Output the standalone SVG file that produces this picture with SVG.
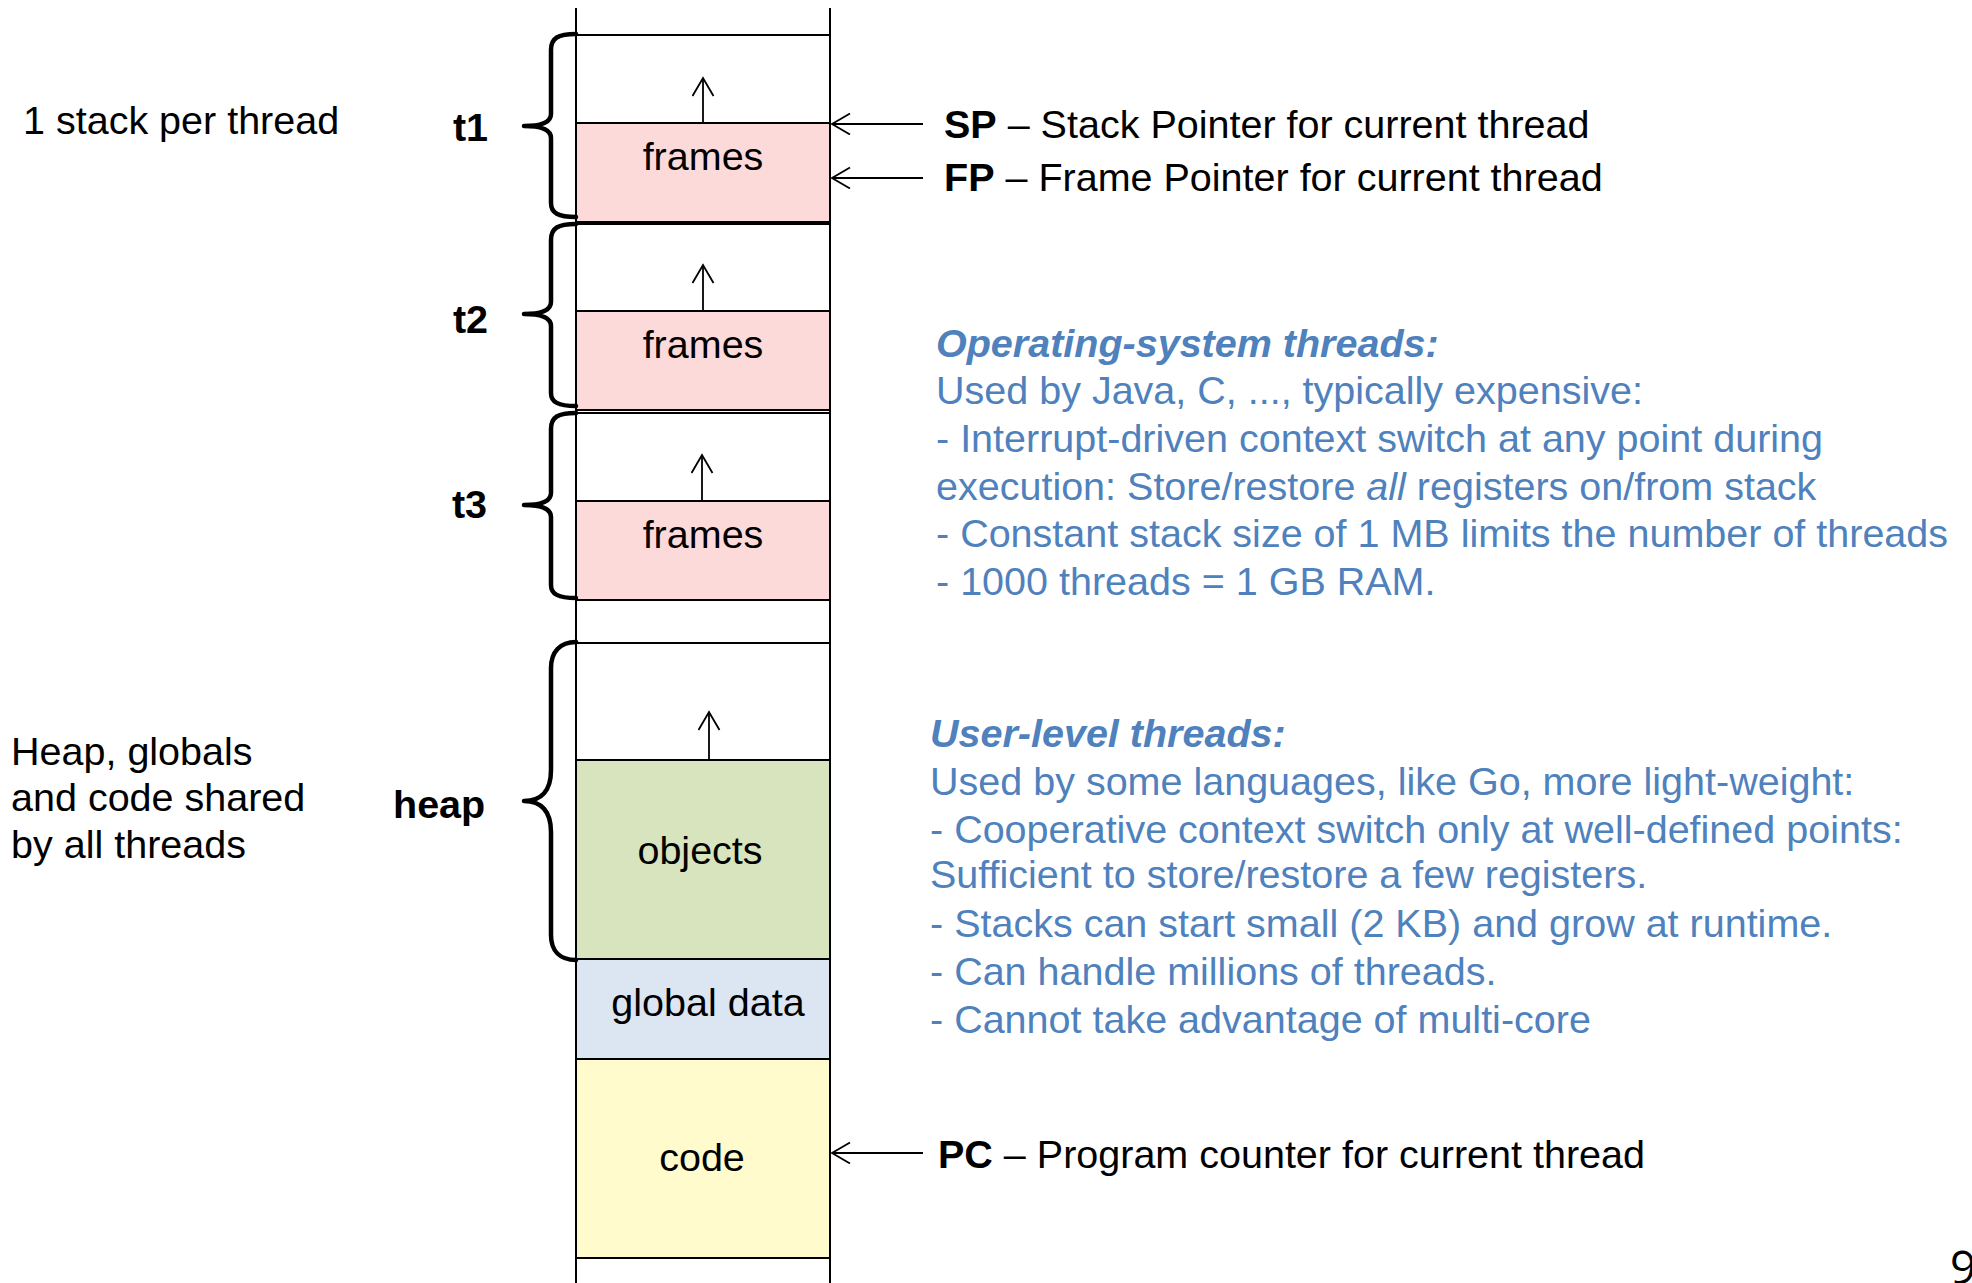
<svg xmlns="http://www.w3.org/2000/svg" width="1972" height="1283" viewBox="0 0 1972 1283">
<style>
text{font-family:"Liberation Sans",Arial,Helvetica,sans-serif;font-size:39.5px;fill:#000}
.b{font-weight:bold}
.blue{fill:#4F81BD}
.h{font-weight:bold;font-style:italic}
.c{text-anchor:middle}
.seg{stroke:#000;stroke-width:2}
.brace{fill:none;stroke:#000;stroke-width:4.5;stroke-linecap:round;stroke-linejoin:round}
.arr{fill:none;stroke:#000;stroke-width:1.8;marker-end:url(#open)}
</style>
<defs>
<marker id="open" markerUnits="userSpaceOnUse" markerWidth="24" markerHeight="26" refX="19" refY="11" orient="auto">
<path d="M1,0.5 L19,11 L1,21.5" fill="none" stroke="#000" stroke-width="1.8"/>
</marker>
</defs>
<rect width="1972" height="1283" fill="#fff"/>

<g id="stack-t1">
<rect x="576" y="35" width="254" height="88" fill="#fff" class="seg"/>
<rect x="576" y="123" width="254" height="99" fill="#FDDADA" class="seg"/>
<text x="703" y="170" class="c">frames</text>
</g>
<g id="stack-t2">
<rect x="576" y="224" width="254" height="87" fill="#fff" class="seg"/>
<rect x="576" y="311" width="254" height="99" fill="#FDDADA" class="seg"/>
<text x="703" y="358" class="c">frames</text>
</g>
<g id="stack-t3">
<rect x="576" y="413" width="254" height="88" fill="#fff" class="seg"/>
<rect x="576" y="501" width="254" height="99" fill="#FDDADA" class="seg"/>
<text x="703" y="548" class="c">frames</text>
</g>
<g id="heap">
<rect x="576" y="643" width="254" height="117" fill="#fff" class="seg"/>
<rect x="576" y="760" width="254" height="199" fill="#D7E4BD" class="seg"/>
<text x="700" y="864" class="c">objects</text>
</g>
<g id="global-data">
<rect x="576" y="959" width="254" height="100" fill="#DCE6F2" class="seg"/>
<text x="708" y="1016" class="c">global data</text>
</g>
<g id="code">
<rect x="576" y="1059" width="254" height="199" fill="#FFFBCC" class="seg"/>
<text x="702" y="1171" class="c">code</text>
</g>
<g id="column">
<line x1="576" y1="8" x2="576" y2="1283" class="seg"/>
<line x1="830" y1="8" x2="830" y2="1283" class="seg"/>
</g>

<g id="braces">
<path class="brace" d="M576,34 C558,34 551,38 551,50 L551,114 C551,122 542,126 524,126 C542,126 551,130 551,138 L551,203 C551,213 558,217 576,217"/>
<path class="brace" d="M576,224 C558,224 551,228 551,240 L551,302 C551,310 542,314 524,314 C542,314 551,318 551,326 L551,393 C551,402 558,406 576,406"/>
<path class="brace" d="M576,413 C558,413 551,417 551,429 L551,493 C551,501 542,505 524,505 C542,505 551,509 551,517 L551,585 C551,594 558,598 576,598"/>
<path class="brace" d="M576,642 C560,642 551,652 551,668 L551,770 C551,790 542,801 524,801 C542,801 551,812 551,832 L551,935 C551,951 560,960 576,960"/>
</g>

<g id="connectors">
<line x1="703" y1="122" x2="703" y2="78" class="arr"/>
<line x1="703" y1="310" x2="703" y2="265" class="arr"/>
<line x1="702" y1="500" x2="702" y2="455" class="arr"/>
<line x1="709" y1="759" x2="709" y2="712" class="arr"/>
<line x1="923" y1="124" x2="832" y2="124" class="arr"/>
<line x1="923" y1="178" x2="832" y2="178" class="arr"/>
<line x1="923" y1="1153" x2="832" y2="1153" class="arr"/>
</g>

<g id="labels">
<text x="23" y="134">1 stack per thread</text>
<text x="11" y="765">Heap, globals</text>
<text x="11" y="811">and code shared</text>
<text x="11" y="858">by all threads</text>
<text x="488" y="141" class="b" text-anchor="end">t1</text>
<text x="488" y="333" class="b" text-anchor="end">t2</text>
<text x="487" y="518" class="b" text-anchor="end">t3</text>
<text x="393" y="818" class="b">heap</text>
<text x="944" y="138"><tspan class="b">SP</tspan> – Stack Pointer for current thread</text>
<text x="944" y="191"><tspan class="b">FP</tspan> – Frame Pointer for current thread</text>
<text x="938" y="1168"><tspan class="b">PC</tspan> – Program counter for current thread</text>
</g>

<g id="os-threads">
<text x="936" y="357" class="blue h">Operating-system threads:</text>
<text x="936" y="404" class="blue">Used by Java, C, ..., typically expensive:</text>
<text x="936" y="452" class="blue">- Interrupt-driven context switch at any point during</text>
<text x="936" y="500" class="blue">execution: Store/restore <tspan font-style="italic">all</tspan> registers on/from stack</text>
<text x="936" y="547" class="blue">- Constant stack size of 1 MB limits the number of threads</text>
<text x="936" y="595" class="blue">- 1000 threads = 1 GB RAM.</text>
</g>
<g id="user-threads">
<text x="930" y="747" class="blue h">User-level threads:</text>
<text x="930" y="795" class="blue">Used by some languages, like Go, more light-weight:</text>
<text x="930" y="843" class="blue">- Cooperative context switch only at well-defined points:</text>
<text x="930" y="888" class="blue">Sufficient to store/restore a few registers.</text>
<text x="930" y="937" class="blue">- Stacks can start small (2 KB) and grow at runtime.</text>
<text x="930" y="985" class="blue">- Can handle millions of threads.</text>
<text x="930" y="1033" class="blue">- Cannot take advantage of multi-core</text>
</g>
<text x="1950" y="1284" style="font-family:'Open Sans','Noto Sans',sans-serif;font-size:46px">9</text>
</svg>
